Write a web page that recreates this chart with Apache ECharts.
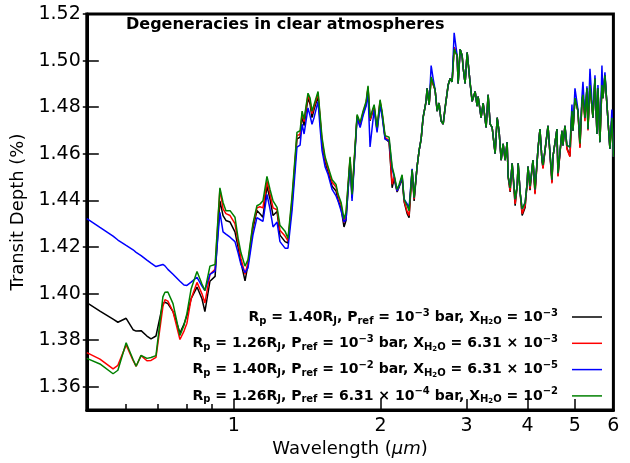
<!DOCTYPE html>
<html>
<head>
<meta charset="utf-8">
<title>Degeneracies in clear atmospheres</title>
<script src="https://cdn.jsdelivr.net/npm/echarts@6/dist/echarts.min.js"></script>
<style>
html, body { margin: 0; padding: 0; background: #fff; }
#main { width: 630px; height: 463px; }
</style>
</head>
<body>
<div id="main"></div>
<script type="text/javascript">
// wavelength grid (micron)
var wavelength = [
  0.5, 0.532, 0.566, 0.579, 0.602, 0.622, 0.631, 0.646, 0.664, 0.677,
  0.693, 0.716, 0.723, 0.733, 0.751, 0.776, 0.791, 0.802, 0.818, 0.841,
  0.861, 0.873, 0.894, 0.916, 0.937, 0.951, 0.964, 0.983, 1.006, 1.021,
  1.035, 1.055, 1.070, 1.095, 1.116, 1.132, 1.148, 1.170, 1.187, 1.204,
  1.227, 1.244, 1.274, 1.292, 1.317, 1.348, 1.368, 1.381, 1.394, 1.420,
  1.434, 1.447, 1.461, 1.489, 1.503, 1.517, 1.539, 1.561, 1.591, 1.621,
  1.636, 1.660, 1.683, 1.699, 1.732, 1.748, 1.790, 1.816, 1.841, 1.868,
  1.885, 1.903, 1.940, 1.967, 1.995, 2.014, 2.043, 2.082, 2.112, 2.132,
  2.162, 2.183, 2.214, 2.235, 2.267, 2.288, 2.321, 2.343, 2.376, 2.399,
  2.422, 2.444, 2.479, 2.491, 2.515, 2.539, 2.563, 2.587, 2.612, 2.636,
  2.661, 2.687, 2.712, 2.751, 2.777, 2.803, 2.830, 2.870, 2.884, 2.911,
  2.939, 2.952, 2.980, 3.009, 3.052, 3.081, 3.125, 3.154, 3.169, 3.214,
  3.245, 3.291, 3.322, 3.354, 3.386, 3.434, 3.467, 3.500, 3.533, 3.566,
  3.600, 3.634, 3.651, 3.686, 3.721, 3.774, 3.810, 3.828, 3.864, 3.901,
  3.956, 3.994, 4.010, 4.048, 4.105, 4.145, 4.204, 4.243, 4.283, 4.304,
  4.345, 4.407, 4.490, 4.511, 4.597, 4.619, 4.707, 4.729, 4.774, 4.819,
  4.888, 4.934, 4.958, 5.005, 5.076, 5.124, 5.173, 5.197, 5.246, 5.296,
  5.321, 5.372, 5.448, 5.500, 5.552, 5.578, 5.631, 5.684, 5.711, 5.765,
  5.820, 5.902, 5.958, 6.0
];

// transit depth (%) of each model
var depthBlack = [
  1.3961, 1.3925, 1.3890, 1.3877, 1.3894, 1.3845, 1.3839, 1.3841, 1.3818, 1.3806,
  1.3818, 1.3957, 1.3963, 1.3957, 1.3923, 1.3831, 1.3869, 1.3906, 1.3978, 1.4028,
  1.3978, 1.3923, 1.4053, 1.4074, 1.4398, 1.4335, 1.4314, 1.4307, 1.4265, 1.4200,
  1.4133, 1.4055, 1.4125, 1.4279, 1.4356, 1.4343, 1.4328, 1.4461, 1.4406, 1.4335,
  1.4352, 1.4251, 1.4223, 1.4217, 1.4385, 1.4664, 1.4671, 1.4763, 1.4721, 1.4839,
  1.4813, 1.4755, 1.4790, 1.4847, 1.4748, 1.4645, 1.4566, 1.4524, 1.4461, 1.4440,
  1.4402, 1.4365, 1.4286, 1.4314, 1.4574, 1.4410, 1.4759, 1.4721, 1.4772, 1.4813,
  1.4881, 1.4742, 1.4801, 1.4700, 1.4822, 1.4772, 1.4667, 1.4650, 1.4454, 1.4494,
  1.4436, 1.4457, 1.4494, 1.4394, 1.4343, 1.4326, 1.4531, 1.4398, 1.4545, 1.4615,
  1.4664, 1.4755, 1.4825, 1.4881, 1.4811, 1.4923, 1.4923, 1.4874, 1.4783, 1.4818,
  1.4741, 1.4727, 1.4797, 1.4895, 1.4923, 1.4909, 1.5057, 1.5021, 1.4902, 1.5049,
  1.5021, 1.4972, 1.4902, 1.5035, 1.4902, 1.4825, 1.4867, 1.4804, 1.4846, 1.4755,
  1.4818, 1.4713, 1.4853, 1.4727, 1.4713, 1.4601, 1.4755, 1.4692, 1.4573, 1.4643,
  1.4573, 1.4650, 1.4503, 1.4436, 1.4559, 1.4377, 1.4461, 1.4559, 1.4433, 1.4335,
  1.4370, 1.4475, 1.4545, 1.4444, 1.4573, 1.4431, 1.4622, 1.4706, 1.4573, 1.4540,
  1.4615, 1.4720, 1.4478, 1.4587, 1.4706, 1.4506, 1.4699, 1.4636, 1.4720, 1.4625,
  1.4590, 1.4783, 1.4699, 1.4839, 1.4783, 1.4630, 1.4825, 1.4853, 1.4755, 1.4881,
  1.4706, 1.4895, 1.4755, 1.4923, 1.4685, 1.4881, 1.4650, 1.4895, 1.4839, 1.4937,
  1.4811, 1.4622, 1.4755, 1.4587
];
var depthRed = [
  1.3747, 1.3719, 1.3677, 1.3692, 1.3780, 1.3713, 1.3688, 1.3734, 1.3712, 1.3713,
  1.3726, 1.3944, 1.3974, 1.3968, 1.3923, 1.3803, 1.3839, 1.3873, 1.3978, 1.4048,
  1.3999, 1.3960, 1.4083, 1.4104, 1.4448, 1.4364, 1.4343, 1.4335, 1.4300, 1.4221,
  1.4150, 1.4083, 1.4133, 1.4293, 1.4368, 1.4373, 1.4368, 1.4482, 1.4427, 1.4368,
  1.4360, 1.4272, 1.4247, 1.4226, 1.4402, 1.4679, 1.4683, 1.4776, 1.4738, 1.4851,
  1.4826, 1.4772, 1.4801, 1.4860, 1.4759, 1.4658, 1.4578, 1.4536, 1.4478, 1.4457,
  1.4419, 1.4381, 1.4305, 1.4339, 1.4583, 1.4419, 1.4763, 1.4726, 1.4776, 1.4818,
  1.4885, 1.4746, 1.4805, 1.4705, 1.4826, 1.4776, 1.4671, 1.4657, 1.4469, 1.4503,
  1.4440, 1.4461, 1.4503, 1.4398, 1.4352, 1.4335, 1.4531, 1.4405, 1.4545, 1.4615,
  1.4664, 1.4755, 1.4825, 1.4881, 1.4811, 1.4923, 1.4923, 1.4874, 1.4783, 1.4818,
  1.4741, 1.4727, 1.4797, 1.4895, 1.4923, 1.4909, 1.5057, 1.5021, 1.4902, 1.5049,
  1.5021, 1.4972, 1.4902, 1.5035, 1.4902, 1.4825, 1.4867, 1.4804, 1.4846, 1.4755,
  1.4818, 1.4713, 1.4853, 1.4727, 1.4713, 1.4601, 1.4755, 1.4692, 1.4573, 1.4643,
  1.4573, 1.4650, 1.4503, 1.4440, 1.4559, 1.4385, 1.4461, 1.4559, 1.4433, 1.4343,
  1.4377, 1.4475, 1.4545, 1.4450, 1.4573, 1.4427, 1.4622, 1.4706, 1.4573, 1.4536,
  1.4615, 1.4720, 1.4473, 1.4587, 1.4706, 1.4503, 1.4699, 1.4636, 1.4720, 1.4620,
  1.4587, 1.4783, 1.4699, 1.4839, 1.4783, 1.4625, 1.4825, 1.4853, 1.4740, 1.4881,
  1.4700, 1.4895, 1.4755, 1.4923, 1.4685, 1.4881, 1.4650, 1.4895, 1.4839, 1.4937,
  1.4811, 1.4622, 1.4755, 1.4587
];
var depthBlue = [
  1.4322, 1.4284, 1.4247, 1.4230, 1.4207, 1.4188, 1.4177, 1.4163, 1.4144, 1.4131,
  1.4116, 1.4125, 1.4119, 1.4104, 1.4083, 1.4053, 1.4037, 1.4035, 1.4049, 1.4070,
  1.4032, 1.4013, 1.4083, 1.4097, 1.4349, 1.4265, 1.4255, 1.4242, 1.4223, 1.4175,
  1.4125, 1.4090, 1.4111, 1.4251, 1.4326, 1.4318, 1.4310, 1.4426, 1.4363, 1.4286,
  1.4307, 1.4223, 1.4195, 1.4195, 1.4356, 1.4629, 1.4637, 1.4727, 1.4685, 1.4797,
  1.4763, 1.4727, 1.4755, 1.4825, 1.4713, 1.4615, 1.4545, 1.4511, 1.4447, 1.4419,
  1.4398, 1.4356, 1.4307, 1.4318, 1.4566, 1.4398, 1.4755, 1.4713, 1.4763, 1.4805,
  1.4860, 1.4629, 1.4790, 1.4692, 1.4805, 1.4763, 1.4662, 1.4657, 1.4536, 1.4503,
  1.4440, 1.4461, 1.4503, 1.4405, 1.4385, 1.4369, 1.4536, 1.4412, 1.4545, 1.4615,
  1.4664, 1.4755, 1.4825, 1.4881, 1.4811, 1.4979, 1.4923, 1.4874, 1.4783, 1.4818,
  1.4741, 1.4727, 1.4797, 1.4895, 1.4923, 1.4909, 1.5119, 1.5021, 1.4902, 1.5049,
  1.5021, 1.4972, 1.4902, 1.5035, 1.4902, 1.4825, 1.4867, 1.4804, 1.4846, 1.4755,
  1.4818, 1.4713, 1.4853, 1.4727, 1.4713, 1.4601, 1.4755, 1.4692, 1.4573, 1.4643,
  1.4573, 1.4650, 1.4503, 1.4454, 1.4559, 1.4405, 1.4461, 1.4559, 1.4433, 1.4363,
  1.4391, 1.4475, 1.4545, 1.4461, 1.4573, 1.4447, 1.4622, 1.4706, 1.4573, 1.4552,
  1.4615, 1.4720, 1.4489, 1.4587, 1.4706, 1.4517, 1.4699, 1.4636, 1.4720, 1.4636,
  1.4629, 1.4811, 1.4699, 1.4881, 1.4790, 1.4650, 1.4845, 1.4909, 1.4755, 1.4890,
  1.4706, 1.4965, 1.4755, 1.4937, 1.4685, 1.4895, 1.4650, 1.4979, 1.4839, 1.4950,
  1.4811, 1.4622, 1.4790, 1.4587
];
var depthGreen = [
  1.3722, 1.3698, 1.3656, 1.3671, 1.3789, 1.3717, 1.3688, 1.3735, 1.3722, 1.3726,
  1.3734, 1.3986, 1.4006, 1.4007, 1.3957, 1.3820, 1.3864, 1.3915, 1.4020, 1.4095,
  1.4041, 1.4013, 1.4118, 1.4125, 1.4454, 1.4391, 1.4356, 1.4356, 1.4328, 1.4238,
  1.4175, 1.4118, 1.4146, 1.4300, 1.4377, 1.4384, 1.4398, 1.4503, 1.4447, 1.4398,
  1.4370, 1.4293, 1.4268, 1.4237, 1.4419, 1.4692, 1.4699, 1.4783, 1.4748, 1.4860,
  1.4839, 1.4783, 1.4811, 1.4867, 1.4769, 1.4671, 1.4587, 1.4545, 1.4489, 1.4468,
  1.4427, 1.4391, 1.4321, 1.4349, 1.4587, 1.4426, 1.4769, 1.4734, 1.4783, 1.4825,
  1.4892, 1.4755, 1.4811, 1.4713, 1.4832, 1.4783, 1.4678, 1.4671, 1.4545, 1.4510,
  1.4447, 1.4468, 1.4510, 1.4405, 1.4377, 1.4356, 1.4531, 1.4412, 1.4545, 1.4615,
  1.4664, 1.4755, 1.4825, 1.4881, 1.4811, 1.4930, 1.4923, 1.4874, 1.4783, 1.4818,
  1.4741, 1.4727, 1.4797, 1.4895, 1.4923, 1.4909, 1.5049, 1.5021, 1.4902, 1.5049,
  1.5021, 1.4972, 1.4902, 1.5035, 1.4902, 1.4825, 1.4867, 1.4804, 1.4846, 1.4755,
  1.4818, 1.4713, 1.4853, 1.4727, 1.4713, 1.4601, 1.4755, 1.4692, 1.4573, 1.4643,
  1.4573, 1.4650, 1.4503, 1.4454, 1.4559, 1.4405, 1.4461, 1.4559, 1.4433, 1.4363,
  1.4391, 1.4475, 1.4545, 1.4461, 1.4573, 1.4447, 1.4622, 1.4706, 1.4573, 1.4552,
  1.4615, 1.4720, 1.4489, 1.4587, 1.4706, 1.4517, 1.4699, 1.4636, 1.4720, 1.4636,
  1.4629, 1.4783, 1.4699, 1.4839, 1.4783, 1.4643, 1.4825, 1.4853, 1.4755, 1.4881,
  1.4706, 1.4895, 1.4755, 1.4923, 1.4685, 1.4881, 1.4650, 1.4895, 1.4839, 1.4937,
  1.4811, 1.4622, 1.4755, 1.4587
];

// axis ticks
var xLabels = [1, 2, 3, 4, 5, 6];
var xMajorTicks = [1, 2, 3, 4, 5];
var xMinorTicks = [0.6, 0.7, 0.8, 0.9];
var yTicks = [1.36, 1.38, 1.40, 1.42, 1.44, 1.46, 1.48, 1.50, 1.52];

var names = ['m1', 'm2', 'm3', 'm4'];
var colors = ['#000000', '#ff0000', '#0000ff', '#008000'];
var legendText = {
  m1: 'R{sb|p} = 1.40R{sb|J}, P{sb|ref} = 10{sp|\u22123} bar, X{sb|H}{ss|2}{sb|O} = 10{sp|\u22123}',
  m2: 'R{sb|p} = 1.26R{sb|J}, P{sb|ref} = 10{sp|\u22123} bar, X{sb|H}{ss|2}{sb|O} = 6.31 \u00d7 10{sp|\u22123}',
  m3: 'R{sb|p} = 1.40R{sb|J}, P{sb|ref} = 10{sp|\u22122} bar, X{sb|H}{ss|2}{sb|O} = 6.31 \u00d7 10{sp|\u22125}',
  m4: 'R{sb|p} = 1.26R{sb|J}, P{sb|ref} = 6.31 \u00d7 10{sp|\u22124} bar, X{sb|H}{ss|2}{sb|O} = 10{sp|\u22122}'
};

var FONT = 'DejaVu Sans';
var lg = function (v) { return Math.log10(v); };

function pairs(depth) {
  return wavelength.map(function (w, i) { return [lg(w), depth[i]]; });
}

var myChart = echarts.init(document.getElementById('main'), null, { renderer: 'canvas' });

var depths = [depthBlack, depthRed, depthBlue, depthGreen];
var series = names.map(function (n, i) {
  return {
    name: n,
    type: 'line',
    xAxisIndex: 0,
    yAxisIndex: 0,
    data: pairs(depths[i]),
    symbol: 'none',
    clip: true,
    animation: false,
    z: 2 + i,
    color: colors[i],
    lineStyle: { color: colors[i], width: 1.5 }
  };
});

myChart.setOption({
  animation: false,
  backgroundColor: '#fff',
  title: {
    text: 'Degeneracies in clear atmospheres',
    left: 126,
    top: 17,
    padding: 0,
    textStyle: { fontFamily: FONT, fontSize: 16, fontWeight: 'bold', color: '#000' }
  },
  grid: {
    left: 86.8, right: 16.6, top: 14, bottom: 44,
    show: true, borderColor: '#000', borderWidth: 3, backgroundColor: 'transparent'
  },
  legend: {
    data: names,
    orient: 'vertical',
    right: 28,
    top: 308,
    padding: 0,
    align: 'right',
    icon: 'rect',
    itemWidth: 30,
    itemHeight: 1.5,
    itemGap: 8.3,
    selectedMode: false,
    formatter: function (name) { return legendText[name]; },
    textStyle: {
      fontFamily: FONT, fontSize: 14, fontWeight: 'bold', color: '#000', lineHeight: 18,
      padding: [0, 9, 0, 0],
      rich: {
        sb: { fontFamily: FONT, fontSize: 10, fontWeight: 'bold', color: '#000', lineHeight: 11, verticalAlign: 'bottom' },
        ss: { fontFamily: FONT, fontSize: 7, fontWeight: 'bold', color: '#000', lineHeight: 8, verticalAlign: 'bottom' },
        sp: { fontFamily: FONT, fontSize: 10, fontWeight: 'bold', color: '#000', lineHeight: 11, verticalAlign: 'top' }
      }
    }
  },
  xAxis: [{
    type: 'value',
    min: lg(0.5),
    max: lg(6),
    position: 'bottom',
    name: 'Wavelength ({i|\u03bcm})',
    nameLocation: 'middle',
    nameGap: 27,
    nameTextStyle: {
      fontFamily: FONT, fontSize: 18, color: '#000',
      rich: { i: { fontFamily: FONT, fontSize: 18, fontStyle: 'italic', color: '#000' } }
    },
    axisLine: { show: true, onZero: false, lineStyle: { color: '#000', width: 3 } },
    axisTick: {
      show: true, inside: true, length: 11,
      customValues: xMajorTicks.map(lg),
      lineStyle: { color: '#000', width: 1.5 }
    },
    axisLabel: {
      show: true, margin: 6,
      customValues: xLabels.map(lg),
      formatter: function (v) { return String(Math.round(Math.pow(10, v))); },
      fontFamily: FONT, fontSize: 19, color: '#000'
    },
    splitLine: { show: false }
  }, {
    type: 'value',
    min: lg(0.5),
    max: lg(6),
    position: 'bottom',
    axisLine: { show: false, onZero: false },
    axisTick: {
      show: true, inside: true, length: 6,
      customValues: xMinorTicks.map(lg),
      lineStyle: { color: '#000', width: 1.5 }
    },
    axisLabel: { show: false },
    splitLine: { show: false }
  }],
  yAxis: [{
    type: 'value',
    min: 1.35,
    max: 1.52,
    position: 'left',
    name: 'Transit Depth (%)',
    nameLocation: 'middle',
    nameGap: 48,
    nameTextStyle: { fontFamily: FONT, fontSize: 18, color: '#000' },
    axisLine: { show: true, onZero: false, lineStyle: { color: '#000', width: 3 } },
    axisTick: {
      show: true, inside: true, length: 12,
      customValues: yTicks,
      lineStyle: { color: '#000', width: 1.5 }
    },
    axisLabel: {
      show: true, margin: 6,
      customValues: yTicks,
      formatter: function (v) { return v.toFixed(2); },
      fontFamily: FONT, fontSize: 19, color: '#000'
    },
    splitLine: { show: false }
  }, {
    type: 'value',
    min: 1.35,
    max: 1.52,
    position: 'left',
    axisLine: { show: false, onZero: false },
    axisTick: {
      show: true, inside: false, length: 4,
      customValues: yTicks,
      lineStyle: { color: '#000', width: 1.5 }
    },
    axisLabel: { show: false },
    splitLine: { show: false }
  }],
  series: series
});
</script>
</body>
</html>
